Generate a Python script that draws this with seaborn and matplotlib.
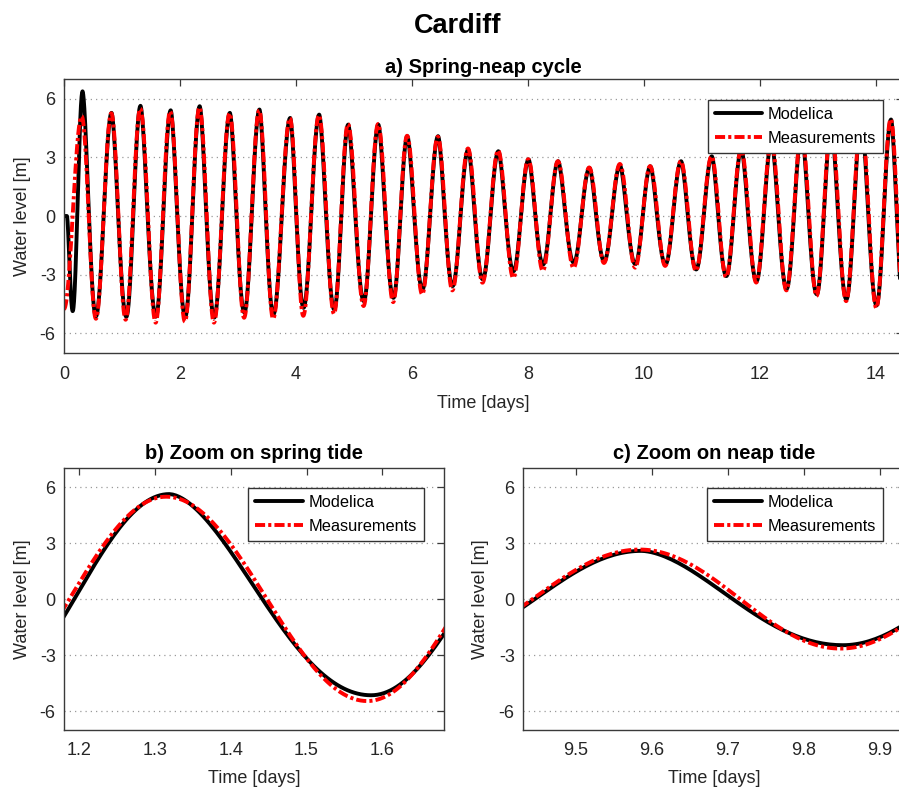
import numpy as np
import pandas as pd
import matplotlib
matplotlib.use("Agg")
import matplotlib.pyplot as plt
import seaborn as sns

# High / low water turning points (time in days, level in m)
model_t = [0.0, 0.05, 0.15, 0.32, 0.55, 0.82, 1.075, 1.319, 1.585, 1.84,
           2.09, 2.34, 2.59, 2.86, 3.11, 3.37, 3.61, 3.90, 4.13, 4.40,
           4.66, 4.90, 5.17, 5.42, 5.68, 5.92, 6.18, 6.45, 6.70, 6.97,
           7.22, 7.49, 7.75, 8.01, 8.26, 8.52, 8.79, 9.06, 9.315, 9.586,
           9.851, 10.11, 10.37, 10.64, 10.90, 11.17, 11.42, 11.68, 11.94, 12.20,
           12.46, 12.72, 12.98, 13.23, 13.49, 13.75, 14.01, 14.26, 14.48]
model_h = [0.0, 0.0, -4.86, 6.37, -5.13, 5.27, -5.15, 5.63, -5.14, 5.40,
           -5.15, 5.61, -5.19, 5.27, -4.93, 5.44, -5.03, 5.01, -4.69, 5.18,
           -4.78, 4.67, -4.35, 4.67, -4.18, 4.08, -3.75, 4.08, -3.58, 3.40,
           -3.24, 3.31, -2.82, 2.89, -2.48, 2.80, -2.39, 2.46, -2.31, 2.59,
           -2.46, 2.54, -2.48, 2.80, -2.73, 3.05, -3.07, 3.40, -3.33, 3.80,
           -3.72, 4.20, -4.00, 4.55, -4.26, 4.90, -4.57, 4.93, -4.75]

meas_t = [0.0, 0.305, 0.55, 0.815, 1.062, 1.315, 1.580, 1.83, 2.085, 2.335,
          2.585, 2.855, 3.105, 3.365, 3.605, 3.895, 4.125, 4.395, 4.655, 4.895,
          5.165, 5.415, 5.675, 5.915, 6.175, 6.445, 6.695, 6.965, 7.215, 7.485,
          7.745, 8.005, 8.255, 8.515, 8.785, 9.055, 9.31, 9.584, 9.848, 10.105,
          10.365, 10.635, 10.895, 11.165, 11.415, 11.675, 11.935, 12.195, 12.455, 12.715,
          12.975, 13.225, 13.485, 13.745, 14.005, 14.255, 14.48]
meas_h = [-4.75, 5.10, -5.25, 5.25, -5.30, 5.49, -5.45, 5.35, -5.40, 5.55,
          -5.45, 5.25, -5.20, 5.40, -5.25, 5.00, -5.10, 5.15, -5.00, 4.70,
          -4.60, 4.70, -4.40, 4.10, -4.00, 4.05, -3.80, 3.45, -3.41, 3.35,
          -3.16, 2.90, -2.80, 2.80, -2.65, 2.48, -2.40, 2.66, -2.64, 2.55,
          -2.55, 2.80, -2.80, 3.05, -3.12, 3.40, -3.40, 3.80, -3.80, 4.20,
          -4.08, 4.55, -4.35, 4.90, -4.70, 4.95, -4.85]

series_names = ["Modelica", "Measurements"]
titles = ["a) Spring-neap cycle", "b) Zoom on spring tide", "c) Zoom on neap tide"]
y_ticks = [-6, -3, 0, 3, 6]
top_x_ticks = [0, 2, 4, 6, 8, 10, 12, 14]
spring_x_ticks = [1.2, 1.3, 1.4, 1.5, 1.6]
neap_x_ticks = [9.5, 9.6, 9.7, 9.8, 9.9]


def tide_trace(t_ext, h_ext, ebb_skew=1.0, n=60):
    """Smooth half-cosine swings between successive turning points.

    ebb_skew < 1 makes falling swings drop faster just after high water.
    """
    t_out, h_out = [], []
    for i in range(len(t_ext) - 1):
        t0, t1 = t_ext[i], t_ext[i + 1]
        h0, h1 = h_ext[i], h_ext[i + 1]
        tt = np.linspace(t0, t1, n, endpoint=False)
        u = (tt - t0) / (t1 - t0)
        if h1 < h0:
            u = u ** ebb_skew
        hh = (h0 + h1) / 2 + (h0 - h1) / 2 * np.cos(np.pi * u)
        t_out.append(tt)
        h_out.append(hh)
    t_out.append([t_ext[-1]])
    h_out.append([h_ext[-1]])
    return np.concatenate(t_out), np.concatenate(h_out)


mt, mh = tide_trace(model_t, model_h, ebb_skew=0.86)
st, sh = tide_trace(meas_t, meas_h)
df = pd.concat([
    pd.DataFrame({"time": mt, "level": mh, "source": series_names[0]}),
    pd.DataFrame({"time": st, "level": sh, "source": series_names[1]}),
], ignore_index=True)

sns.set_theme(style="white")
plt.rcParams["font.family"] = ["Liberation Sans", "DejaVu Sans"]
plt.rcParams["axes.unicode_minus"] = False

fig = plt.figure(figsize=(8.99, 7.93), dpi=100)
ax_top = fig.add_axes([0.07119, 0.55485, 0.93326, 0.34552])
ax_spr = fig.add_axes([0.07119, 0.07945, 0.42269, 0.32976])
ax_nep = fig.add_axes([0.58176, 0.07945, 0.42492, 0.32976])

palette = {"Modelica": "black", "Measurements": "#ff0000"}
dashes = {"Modelica": "", "Measurements": (2.6, 0.8, 0.8, 0.8)}

panels = [
    (ax_top, (0, 14.466), top_x_ticks, titles[0], (0.9762, 0.9234), 4, -0.0393),
    (ax_spr, (1.1802, 1.6812), spring_x_ticks, titles[1], (0.947, 0.9254), 6.6, -0.0868),
    (ax_nep, (9.4303, 9.9329), neap_x_ticks, titles[2], (0.942, 0.9254), 6.6, -0.089),
]

edge = "#3a3a3a"
for ax, xlim, xt, title, leg_anchor, tpad, ylab_x in panels:
    sub = df[(df.time >= xlim[0] - 0.05) & (df.time <= xlim[1] + 0.05)]
    sns.lineplot(data=sub, x="time", y="level", hue="source", style="source",
                 hue_order=series_names, style_order=series_names,
                 palette=palette, dashes=dashes, linewidth=2.8,
                 estimator=None, sort=False, errorbar=None, legend=False, ax=ax)
    ax.set_xlim(*xlim)
    ax.set_ylim(-7, 7)
    ax.set_xticks(xt)
    ax.set_xticklabels([f"{v:g}" for v in xt])
    ax.set_yticks(y_ticks)
    ax.set_yticklabels([str(v) for v in y_ticks])
    ax.grid(False)
    for yv in y_ticks:
        ax.axhline(yv, color="#9a9a9a", lw=0.9, ls=(0, (1, 3.2)), zorder=0)
    for s in ax.spines.values():
        s.set_color(edge)
        s.set_linewidth(1.0)
    ax.tick_params(direction="in", top=True, right=True, length=5, width=0.9,
                   color=edge, labelcolor="#262626", labelsize=13)
    ax.tick_params(axis="x", pad=9)
    ax.tick_params(axis="y", pad=6)
    ax.set_xlabel("Time [days]", fontsize=13, color="#262626")
    ax.set_ylabel("Water level [m]", fontsize=13, color="#262626")
    ax.xaxis.set_label_coords(0.5, -0.153)
    ax.yaxis.set_label_coords(ylab_x, 0.5)
    ax.set_title(title, fontsize=14.5, fontweight="bold", pad=tpad, color="black")
    leg = ax.legend(ax.lines[:2], series_names, loc="upper right",
                    bbox_to_anchor=leg_anchor, borderaxespad=0, fontsize=11.8,
                    handlelength=2.9, handletextpad=0.35, borderpad=0.42,
                    labelspacing=0.55, fancybox=False, framealpha=1,
                    edgecolor="#333333")
    leg.get_frame().set_linewidth(1.0)
    for txt in leg.get_texts():
        txt.set_color("black")

fig.text(0.5095, 1 - 33.3 / 793, "Cardiff", ha="center", va="baseline",
         fontsize=19.5, fontweight="bold", color="black")

fig.savefig("out.png", dpi=100)
